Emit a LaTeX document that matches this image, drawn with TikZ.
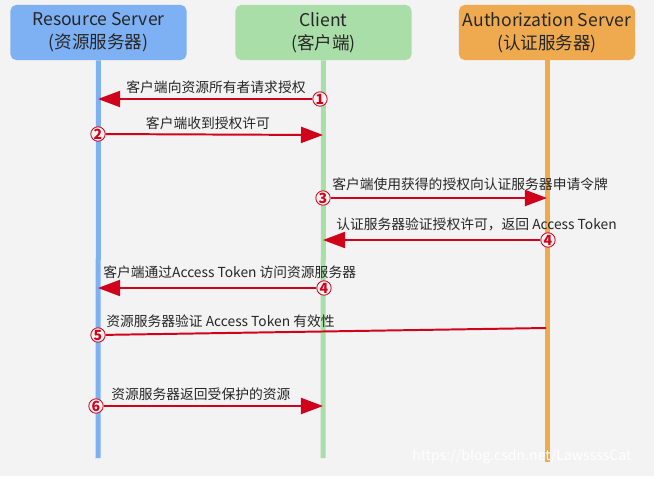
\documentclass[tikz,border=0pt]{standalone}
\usepackage{fontspec}
\setmainfont{Noto Sans CJK SC}
\usetikzlibrary{arrows.meta}
\definecolor{bgc}{HTML}{F3F3F3}
\definecolor{rsblue}{HTML}{7EB1F4}
\definecolor{clgreen}{HTML}{A9DEA9}
\definecolor{asorange}{HTML}{EFAA4F}
\definecolor{msgred}{HTML}{D0021B}

\begin{document}
\begin{tikzpicture}[x=0.025cm, y=-0.025cm]
        \tikzstyle{party} = [rounded corners=4pt, minimum width=4.4cm, minimum height=1.375cm, align=center, inner sep=0pt, font=\fontsize{12.5}{16.5}\selectfont, text=black!85]
        \tikzstyle{life} = [line width=0.125cm]
        \tikzstyle{num} = [draw=msgred, text=msgred, circle, line width=0.6pt, minimum size=0.36cm, inner sep=0pt, font=\fontsize{10}{10}\selectfont\bfseries, fill=bgc]
        \tikzstyle{lbl} = [font=\fontsize{9.8}{11}\selectfont, text=black!85, inner sep=0pt]
        \tikzstyle{msg} = [-{Triangle[length=0.55cm, width=0.4cm]}, msgred, line width=1.4pt]
        \useasboundingbox (0,0) rectangle (654,476);
        \fill[bgc] (0,0) rectangle (654,476);
        % participants
        \node[party, fill=rsblue] (rs) at (98.5,32.5) {Resource Server\\(资源服务器)};
        \node[party, fill=clgreen] (cl) at (323.5,32.5) {Client\\(客户端)};
        \node[party, fill=asorange] (as) at (547,32.5) {Authorization Server\\(认证服务器)};
        \coordinate (rsend) at (98,458);
        \coordinate (clend) at (323,458);
        \coordinate (asend) at (547,462);
        \draw[life, rsblue] (rs.south) -- (rsend);
        \draw[life, clgreen] (cl.south) -- (clend);
        \draw[life, asorange] (as.south) -- (asend);
        % points on the lifelines
        \coordinate (r1) at (98,99);
        \coordinate (c2) at (323,135);
        \coordinate (a3) at (547,198);
        \coordinate (c4) at (323,240);
        \coordinate (r5) at (98,288);
        \coordinate (a6) at (546,328);
        \coordinate (c7) at (323,406);
        % numbers
        \node[num] (n1) at (320,99) {1};
        \node[num] (n2) at (98,134) {2};
        \node[num] (n3) at (323,198) {3};
        \node[num] (n4) at (548,240) {4};
        \node[num] (n4b) at (324,288) {4};
        \node[num] (n5) at (98,335) {5};
        \node[num] (n6) at (96,406) {6};
        % messages
        \draw[msg] (n1) -- (r1);
        \draw[msg] (n2) -- (c2);
        \draw[msg] (n3) -- (a3);
        \draw[msg] (n4) -- (c4);
        \draw[msg] (n4b) -- (r5);
        \draw[msgred, line width=1.4pt] (a6) -- (n5);
        \draw[msg] (n6) -- (c7);
        % labels
        \node[lbl] (l1) at (216,87) {客户端向资源所有者请求授权};
        \node[lbl] (l2) at (208,123) {客户端收到授权许可};
        \node[lbl, anchor=west] (l3) at (332,184) {客户端使用获得的授权向认证服务器申请令牌};
        \node[lbl, anchor=west] (l4) at (336,224) {认证服务器验证授权许可，返回 Access Token};
        \node[lbl, anchor=west] (l5) at (103,272) {客户端通过Access Token 访问资源服务器};
        \node[lbl, anchor=west] (l6) at (106,321) {资源服务器验证 Access Token 有效性};
        \node[lbl, anchor=west] (l7) at (111,394) {资源服务器返回受保护的资源};
        \node[font=\fontsize{10}{10}\selectfont, text=white, anchor=west, inner sep=0pt] (wm) at (412,457) {https://blog.csdn.net/LawssssCat};
      \end{tikzpicture}
\end{document}
